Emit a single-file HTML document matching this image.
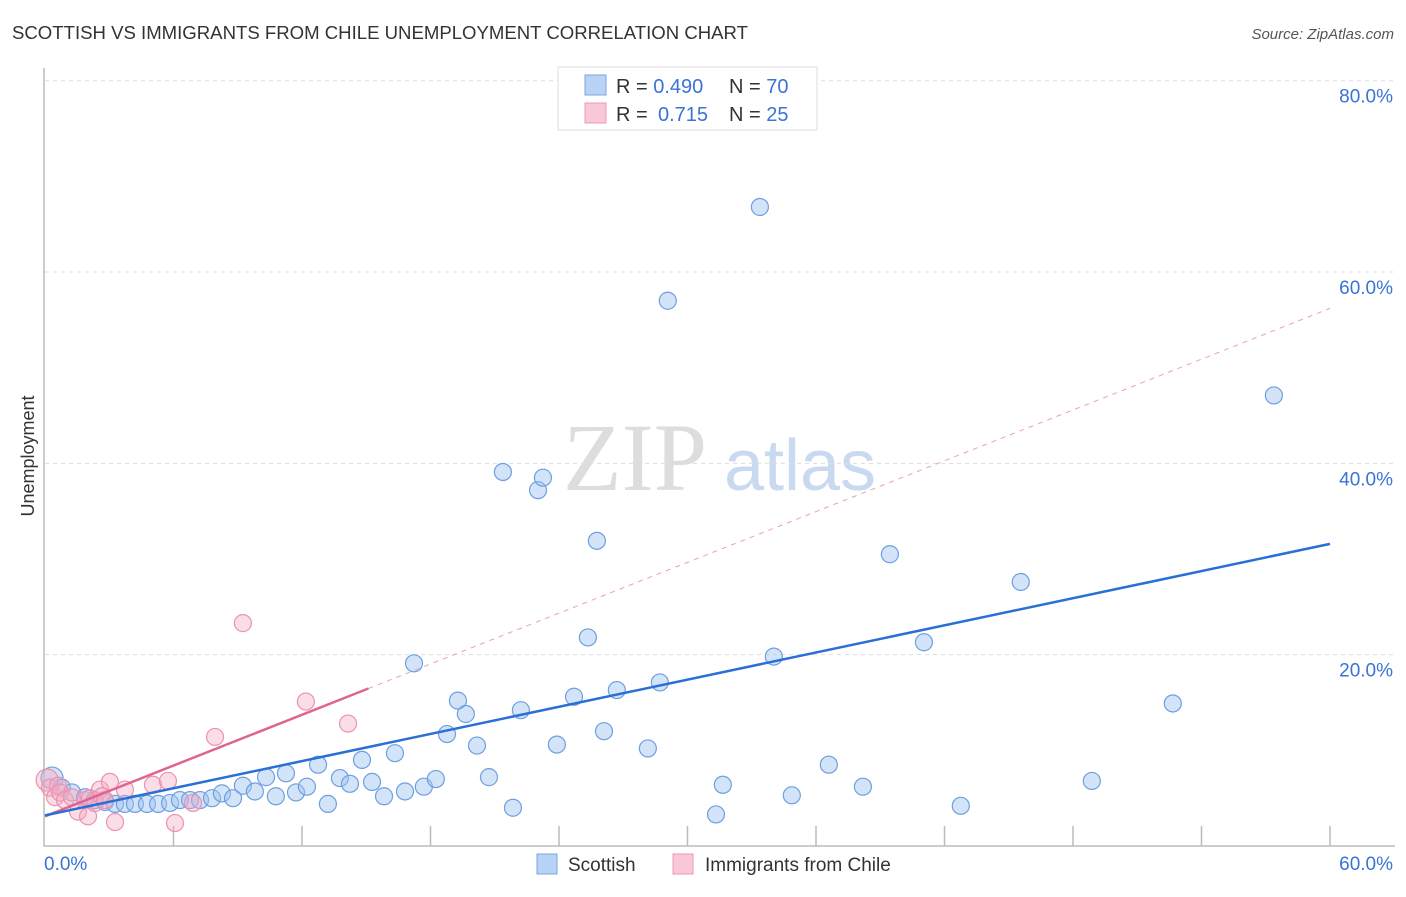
<!DOCTYPE html>
<html><head><meta charset="utf-8"><style>
body{margin:0;background:#fff;font-family:"Liberation Sans",sans-serif;}
</style></head><body>
<svg width="1406" height="892" xmlns="http://www.w3.org/2000/svg" id="chart">
<text x="12" y="39" font-size="18" fill="#333" textLength="736" lengthAdjust="spacingAndGlyphs">SCOTTISH VS IMMIGRANTS FROM CHILE UNEMPLOYMENT CORRELATION CHART</text>
<text x="1394" y="39" font-size="15" fill="#555" font-style="italic" text-anchor="end">Source: ZipAtlas.com</text>
<text x="635" y="490" font-size="96" fill="#ddd" font-family="Liberation Serif,serif" text-anchor="middle">ZIP</text>
<text x="800" y="490" font-size="72" fill="#c9d9f0" text-anchor="middle">atlas</text>
<text x="34" y="456" font-size="18" fill="#333" text-anchor="middle" transform="rotate(-90 34 456)">Unemployment</text>
<g id="grid"></g><g id="marks"></g>
<g>
<rect x="558" y="67" width="259" height="63" fill="#fff" stroke="#ddd"/>
<rect x="585" y="75" width="21" height="20" fill="#b9d3f5" stroke="#7aa6e0"/>
<rect x="585" y="103" width="21" height="20" fill="#f9c8d6" stroke="#eb9ab3"/>
<text x="616" y="93" font-size="20" fill="#333">R = <tspan fill="#3a73d6">0.490</tspan><tspan x="729">N = </tspan><tspan fill="#3a73d6">70</tspan></text>
<text x="616" y="121" font-size="20" fill="#333">R = <tspan x="658" fill="#3a73d6">0.715</tspan><tspan x="729">N = </tspan><tspan fill="#3a73d6">25</tspan></text>
</g>
<rect x="537" y="854" width="20" height="20" fill="#b9d3f5" stroke="#7aa6e0"/>
<text x="568" y="871" font-size="19" fill="#333">Scottish</text>
<rect x="673" y="854" width="20" height="20" fill="#f9c8d6" stroke="#eb9ab3"/>
<text x="705" y="871" font-size="19" fill="#333">Immigrants from Chile</text>
</svg>
<script>
const yTicks=[20,40,60,80];
const yTickLabels=["20.0%","40.0%","60.0%","80.0%"];
const xTickVals=[6,12,18,24,30,36,42,48,54,60];
const scottishX=[0.33,0.79,1.26,1.87,2.33,2.80,3.27,3.73,4.20,4.76,5.28,5.84,6.30,6.77,7.24,7.80,8.26,8.78,9.24,9.80,10.32,10.78,11.25,11.72,12.23,12.75,13.21,13.77,14.24,14.80,15.27,15.83,16.34,16.81,17.23,17.69,18.25,18.77,19.28,19.65,20.17,20.73,21.38,21.85,22.22,23.02,23.25,23.90,24.70,25.35,25.77,26.10,26.70,28.15,28.71,29.08,31.33,31.65,33.38,34.03,34.87,36.60,38.19,39.45,41.04,42.76,45.56,48.88,52.66,57.38];
const scottishY=[7.1,6.1,5.6,5.1,4.8,4.6,4.4,4.4,4.4,4.4,4.4,4.5,4.8,4.8,4.8,5.0,5.5,5.0,6.3,5.7,7.2,5.2,7.6,5.6,6.2,8.5,4.4,7.1,6.5,9.0,6.7,5.2,9.7,5.7,19.1,6.2,7.0,11.7,15.2,13.8,10.5,7.2,39.1,4.0,14.2,37.2,38.5,10.6,15.6,21.8,31.9,12.0,16.3,10.2,17.1,57.0,3.3,6.4,66.8,19.8,5.3,8.5,6.2,30.5,21.3,4.2,27.6,6.8,14.9,47.1];
const chileX=[0.1,0.23,0.47,0.61,0.70,0.93,1.26,1.54,1.87,2.01,2.10,2.33,2.57,2.66,2.80,3.03,3.27,3.73,5.04,5.74,6.07,6.91,7.94,9.24,12.18,14.15];
const chileY=[6.9,6.1,5.1,6.3,5.6,4.8,5.1,3.6,4.8,3.1,5.0,4.5,5.9,5.2,4.8,6.7,2.5,5.9,6.4,6.8,2.4,4.5,11.4,23.3,15.1,12.8];
const scottishTrend=[3.2,0.473];
const chileTrend=[3.1,0.885];
const chileSolidEnd=15.1;
const X=v=>45+v/60*1285, Y=v=>846-v*9.566;
const NS="http://www.w3.org/2000/svg";
const grid=document.getElementById('grid'), marks=document.getElementById('marks');
function mk(tag,at,parent){const e=document.createElementNS(NS,tag);for(const k in at)e.setAttribute(k,at[k]);parent.appendChild(e);return e;}
yTicks.forEach((t,i)=>{
 const l=mk('line',{x1:45,x2:1395,y1:Y(t),y2:Y(t),stroke:'#ddd','stroke-dasharray':'4,4'},grid);
 
 
 const tx=mk('text',{x:1393,y:Y(t)+22,'font-size':19,fill:'#3a73d6','text-anchor':'end'},grid);tx.textContent=yTickLabels[i];
 
 
});
const ax=mk('path',{d:'M44 68V846H1395',fill:'none',stroke:'#bbb','stroke-width':1.5},grid);


xTickVals.forEach(t=>{const l=mk('line',{x1:X(t),x2:X(t),y1:826,y2:846,stroke:'#bbb','stroke-width':1.5},grid);
 
 });
const xl0=mk('text',{x:44,y:870,'font-size':19,fill:'#3a73d6'},grid);xl0.textContent='0.0%';


const xl1=mk('text',{x:1393,y:870,'font-size':19,fill:'#3a73d6','text-anchor':'end'},grid);xl1.textContent='60.0%';


scottishX.forEach((x,i)=>{const c=mk('circle',{cx:X(x),cy:Y(scottishY[i]),r:i==0?11:8.5,fill:'rgba(160,196,240,0.45)',stroke:'#6d9fe0','stroke-width':1.2},marks);
 
 });
chileX.forEach((x,i)=>{const c=mk('circle',{cx:X(x),cy:Y(chileY[i]),r:i==0?11:8.5,fill:'rgba(245,170,195,0.4)',stroke:'#ea93b0','stroke-width':1.2},marks);
 
 });
const cmax=chileSolidEnd;
let l=mk('line',{x1:X(cmax),y1:Y(chileTrend[0]+chileTrend[1]*cmax),x2:X(60),y2:Y(chileTrend[0]+chileTrend[1]*60),stroke:'#e9a0b8','stroke-dasharray':'5,5'},marks);


l=mk('line',{x1:X(0),y1:Y(chileTrend[0]),x2:X(cmax),y2:Y(chileTrend[0]+chileTrend[1]*cmax),stroke:'#e0648e','stroke-width':2.5},marks);


l=mk('line',{x1:X(0),y1:Y(scottishTrend[0]),x2:X(60),y2:Y(scottishTrend[0]+scottishTrend[1]*60),stroke:'#2a6fd6','stroke-width':2.5},marks);


</script>
</body></html>
